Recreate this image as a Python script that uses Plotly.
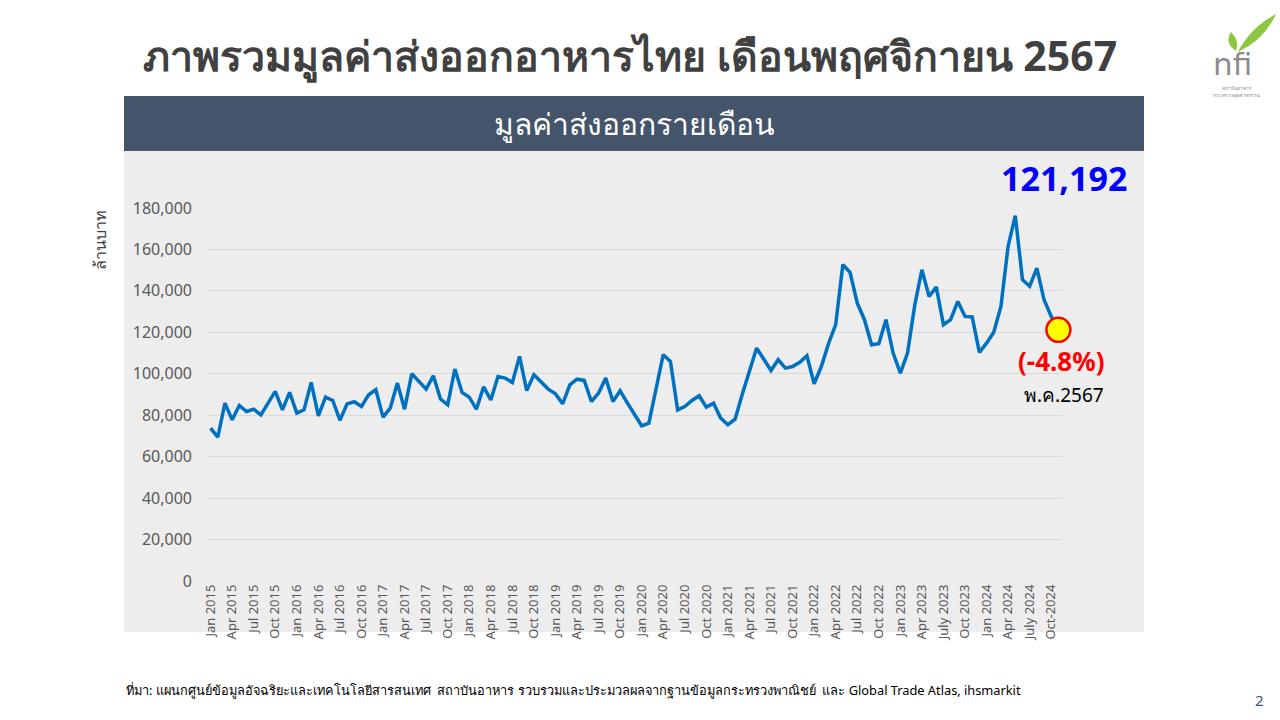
import plotly.graph_objects as go

# monthly food export value (million baht), Jan 2015 - Nov 2024
export_value = [
    73800, 69400, 85800, 77800, 84700, 81800, 82900, 80200, 85800, 91500, 82600, 91000,
    81000, 82600, 95800, 79700, 88700, 87100, 77600, 85500, 86500, 84200, 89900, 92300,
    79100, 83400, 95500, 82900, 100000, 96300, 92600, 99000, 87800, 85000, 102300, 91000,
    88700, 82900, 93700, 87400, 98700, 97900, 95800, 108400, 91900, 99500, 96300, 92600,
    90300, 85500, 94700, 97400, 96800, 86600, 90700, 97900, 86600, 91800, 86000, 80400,
    74900, 76200, 93100, 109200, 106000, 82600, 84200, 87100, 89400, 83900, 85800, 78600,
    75400, 78100, 90100, 101500, 112400, 107000, 101600, 106800, 102700, 103500, 105500, 108700,
    95200, 103500, 114500, 123700, 152700, 148900, 134200, 126100, 114000, 114500, 126100, 110000,
    100300, 110000, 133000, 150200, 137300, 141900, 123700, 126100, 134900, 127700, 127400, 110300,
    114800, 120000, 132500, 161500, 176300, 145400, 142200, 151000, 135700, 127700, 121192,
]

tick_idx = list(range(0, 118, 3))
tick_text = [
    "Jan 2015", "Apr 2015", "Jul 2015", "Oct 2015", "Jan 2016", "Apr 2016", "Jul 2016", "Oct 2016",
    "Jan 2017", "Apr 2017", "Jul 2017", "Oct 2017", "Jan 2018", "Apr 2018", "Jul 2018", "Oct 2018",
    "Jan 2019", "Apr 2019", "Jul 2019", "Oct 2019", "Jan 2020", "Apr 2020", "Jul 2020", "Oct 2020",
    "Jan 2021", "Apr 2021", "Jul 2021", "Oct 2021", "Jan 2022", "Apr 2022", "Jul 2022", "Oct 2022",
    "Jan 2023", "Apr 2023", "July 2023", "Oct 2023", "Jan 2024", "Apr 2024", "July 2024", "Oct-2024",
]

last_value = export_value[-1]
last_change = "(-4.8%)"
last_label = "พ.ค.2567"

W, H = 1280, 720
FONT = "Noto Sans, Tahoma, sans-serif"


def px(x):
    return x / W


def py(y):
    return 1 - y / H


x_idx = list(range(len(export_value)))

fig = go.Figure()
fig.add_trace(go.Scatter(
    x=x_idx, y=export_value, mode="lines",
    line=dict(color="#0070C0", width=3.5),
    hoverinfo="y", showlegend=False,
))
fig.add_trace(go.Scatter(
    x=[x_idx[-1]], y=[last_value], mode="markers", cliponaxis=False,
    marker=dict(size=24, color="#FFFF00", line=dict(color="#FF0000", width=2.5)),
    showlegend=False,
))

shapes = [
    # gray chart panel
    dict(type="rect", xref="paper", yref="paper", x0=px(124), x1=px(1144), y0=py(632), y1=py(151),
         fillcolor="#EDEDED", line=dict(width=0), layer="below"),
    # header banner
    dict(type="rect", xref="paper", yref="paper", x0=px(124), x1=px(1144), y0=py(151), y1=py(96),
         fillcolor="#44546A", line=dict(width=0), layer="below"),
    # logo leaves
    dict(type="path", xref="paper", yref="paper",
         path=f"M {px(1238)},{py(52)} Q {px(1250)},{py(28)} {px(1276)},{py(14)} "
              f"Q {px(1264)},{py(40)} {px(1238)},{py(52)} Z",
         fillcolor="#8DC63F", line=dict(width=0)),
    dict(type="path", xref="paper", yref="paper",
         path=f"M {px(1236)},{py(51)} Q {px(1224)},{py(43)} {px(1231)},{py(32)} "
              f"Q {px(1240)},{py(41)} {px(1236)},{py(51)} Z",
         fillcolor="#8DC63F", line=dict(width=0)),
]

annotations = [
    dict(text="<b>ภาพรวมมูลค่าส่งออกอาหารไทย เดือนพฤศจิกายน 2567</b>", x=px(630), y=py(55),
         font=dict(size=41, color="#404040", family=FONT)),
    dict(text="มูลค่าส่งออกรายเดือน", x=px(634), y=py(123),
         font=dict(size=30, color="#FFFFFF", family=FONT)),
    dict(text="ล้านบาท", x=px(100), y=py(240), textangle=-90,
         font=dict(size=16, color="#404040", family=FONT)),
    dict(text=f"<b>{last_value:,}</b>", x=px(1064), y=py(178),
         font=dict(size=34, color="#0000FF", family=FONT)),
    dict(text=f"<b>{last_change}</b>", x=px(1061), y=py(361),
         font=dict(size=26, color="#FF0000", family=FONT)),
    dict(text=last_label, x=px(1064), y=py(395),
         font=dict(size=19, color="#000000", family=FONT)),
    dict(text="ที่มา: แผนกศูนย์ข้อมูลอัจฉริยะและเทคโนโลยีสารสนเทศ  สถาบันอาหาร รวบรวมและประมวลผลจากฐานข้อมูลกระทรวงพาณิชย์  และ Global Trade Atlas, ihsmarkit",
         x=px(124), y=py(690), xanchor="left",
         font=dict(size=12.8, color="#000000", family=FONT)),
    dict(text="2", x=px(1259), y=py(700),
         font=dict(size=15, color="#44546A", family=FONT)),
    dict(text="nfi", x=px(1232), y=py(64),
         font=dict(size=31, color="#8C8C8C", family="DejaVu Sans")),
    dict(text="สถาบันอาหาร<br>กระทรวงอุตสาหกรรม", x=px(1236), y=py(92),
         font=dict(size=5, color="#8C8C8C", family=FONT)),
]
for a in annotations:
    a.setdefault("xref", "paper")
    a.setdefault("yref", "paper")
    a.setdefault("xanchor", "center")
    a.setdefault("yanchor", "middle")
    a.setdefault("showarrow", False)

fig.update_layout(
    width=W, height=H,
    margin=dict(l=0, r=0, t=0, b=0, autoexpand=False),
    paper_bgcolor="#FFFFFF", plot_bgcolor="rgba(0,0,0,0)",
    shapes=shapes, annotations=annotations,
    xaxis=dict(
        domain=[px(207), px(1062)], range=[-0.5, len(export_value) - 0.5],
        tickvals=tick_idx, ticktext=tick_text, tickangle=-90, automargin=False,
        tickfont=dict(size=13, color="#595959", family=FONT),
        showgrid=False, zeroline=False, showline=False, ticks="",
    ),
    yaxis=dict(
        domain=[py(581), py(208)], range=[0, 180000], dtick=20000, automargin=False,
        tickformat=",", tickfont=dict(size=16, color="#595959", family=FONT),
        gridcolor="#D9D9D9", gridwidth=1, zeroline=False, showline=False, ticks="",
        ticklabelstandoff=14,
    ),
)

fig.write_html("out.html", config={"displayModeBar": False},
               post_script="document.body.style.margin='0';")
